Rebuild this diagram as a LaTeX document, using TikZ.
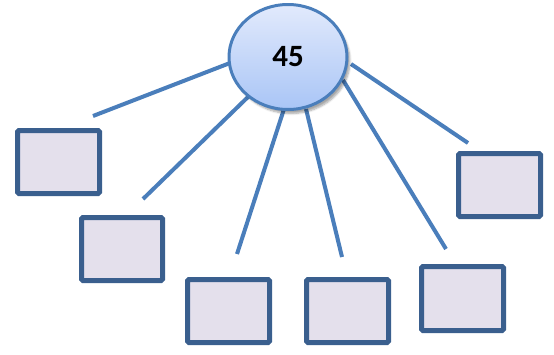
\documentclass[tikz,border=0pt]{standalone}
\usepackage{fontspec}
\setmainfont{Carlito}
\usetikzlibrary{shadows.blur}
\definecolor{linkblue}{HTML}{4A7EBB}
\definecolor{boxborder}{HTML}{3A5F8E}
\definecolor{boxfill}{HTML}{E4E0EC}
\definecolor{topfill}{HTML}{E2EAFC}
\definecolor{botfill}{HTML}{A9C5F6}
\tikzset{
  leaf/.style={draw=boxborder, line width=5pt, fill=boxfill, rounded corners=1.5pt, inner sep=0pt},
  link/.style={draw=linkblue, line width=4pt},
  hub/.style={ellipse, draw=linkblue, line width=3pt, top color=topfill, bottom color=botfill,
     minimum width=118pt, minimum height=105pt, inner sep=0pt,
     blur shadow={shadow xshift=3pt, shadow yshift=-4pt, shadow blur steps=6, shadow opacity=35},
     font=\bfseries\fontsize{31}{31}\selectfont}
}
\usetikzlibrary{shapes.geometric}
\begin{document}
\begin{tikzpicture}[x=1pt,y=-1pt]
\useasboundingbox (0,0) rectangle (554,354);
% boxes
\draw[leaf] (17.5,130.5) rectangle (99.5,193.5) node[pos=.5] (b1) {};
\draw[leaf] (81.5,217.5) rectangle (162.5,280.5) node[pos=.5] (b2) {};
\draw[leaf] (187.5,279.5) rectangle (269.5,342.5) node[pos=.5] (b3) {};
\draw[leaf] (306.5,279.5) rectangle (388.5,342.5) node[pos=.5] (b4) {};
\draw[leaf] (421.5,266.5) rectangle (503.5,330.5) node[pos=.5] (b5) {};
\draw[leaf] (458.5,153.5) rectangle (540.5,216.5) node[pos=.5] (b6) {};
% link start points on hub and free ends
\coordinate (s1) at (230,63);
\coordinate (s2) at (249,96);
\coordinate (s3) at (284,109);
\coordinate (s4) at (306,109);
\coordinate (s5) at (343,80);
\coordinate (s6) at (351,64);
\coordinate (e1) at (93,116);
\coordinate (e2) at (143,199);
\coordinate (e3) at (237,254);
\coordinate (e4) at (342,257);
\coordinate (e5) at (446,249);
\coordinate (e6) at (468,143);
\foreach \i in {1,...,6} { \draw[link] (s\i) -- (e\i); }
\node[hub] (hub) at (288,57) {45};
\end{tikzpicture}
\end{document}
